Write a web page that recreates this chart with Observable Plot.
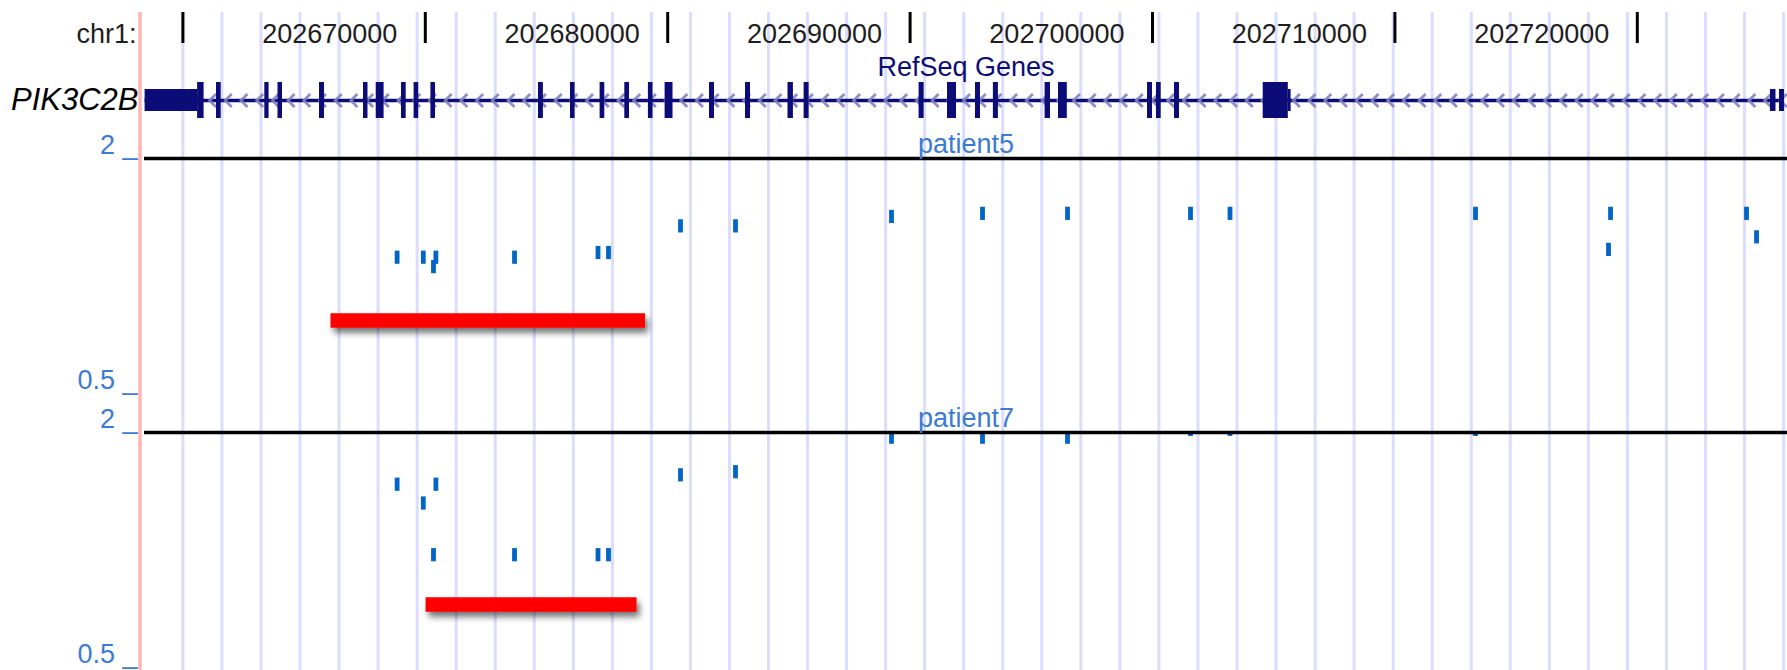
<!DOCTYPE html>
<html>
<head>
<meta charset="utf-8">
<script src="https://cdn.jsdelivr.net/npm/d3@7"></script>
<script src="https://cdn.jsdelivr.net/npm/@observablehq/plot@0.6"></script>
<style>
  body { margin: 0; background: #fff; }
  #browser { width: 1787px; }
  #browser svg { display: block; }
</style>
</head>
<body>
<div id="browser"></div>
<script>
// ---- Locus: chr1, PIK3C2B ----
const chrom = "chr1";
const viewStart = 202658416;
const viewEnd = 202726196;

// Base-position ruler
const rulerTicks = [202660000, 202670000, 202680000, 202690000, 202700000, 202710000, 202720000];
const rulerLabels = [202670000, 202680000, 202690000, 202700000, 202710000, 202720000];

// RefSeq gene model (minus strand)
const geneName = "PIK3C2B";
const txStart = 202658441;
const txEnd = 202726072;
const cdsStarts = [202660607, 202661386, 202663379, 202663923, 202665636, 202667451, 202667975, 202669018,
  202669538, 202670231, 202674670, 202675990, 202677211, 202678230, 202679204, 202679893, 202681724,
  202683210, 202684963, 202685627, 202690371, 202691543, 202692698, 202693436, 202695569, 202696122,
  202699794, 202700165, 202700908, 202704567];
const cdsEnds = [202660875, 202661580, 202663556, 202664109, 202665842, 202667636, 202668300, 202669212,
  202669728, 202670421, 202674872, 202676180, 202677405, 202678424, 202679394, 202680219, 202681931,
  202683416, 202685186, 202685834, 202690578, 202691914, 202692904, 202693643, 202695792, 202696485,
  202700000, 202700359, 202701114, 202705602];
const utrStarts = [202658441, 202705602, 202725494, 202725865];
const utrEnds = [202660607, 202705718, 202725721, 202726072];

// Array probes and per-patient ratios
const probePositions = [202668837, 202669918, 202670437, 202670338, 202673680, 202677125, 202677558,
  202680528, 202682797, 202689233, 202692987, 202696494, 202701568, 202703197, 202713325,
  202718895, 202718812, 202724505, 202724918];
const patient5Values = [1.37, 1.37, 1.37, 1.31, 1.37, 1.40, 1.40, 1.57, 1.57, 1.63, 1.65, 1.65,
  1.65, 1.65, 1.65, 1.65, 1.42, 1.65, 1.50];
const patient7Values = [1.67, 1.55, 1.67, 1.22, 1.22, 1.22, 1.22, 1.73, 1.75, 1.97, 1.97, 1.97,
  2.02, 2.02, 2.02, null, null, null, null];

// Called deletion segments (start, end, level)
const patient5DelStart = 202666110, patient5DelEnd = 202679084, patient5DelLevel = 0.966;
const patient7DelStart = 202670033, patient7DelEnd = 202678734, patient7DelLevel = 0.902;

// Track value range and its labels
const trackDomain = [0.5, 2];
const trackTicks = [2, 0.5];

// ---- Styling ----
const W = 1787, ML = 144;
const font = "'Liberation Sans', Arial, Helvetica, sans-serif";
const navy = "#0c0c78";
const dataBlue = "#0064c8";
const labelBlue = "#3b7bd6";
const guideColor = "#dcdcff";
const pink = "#ffb4b4";
const style = {fontFamily: font, background: "white", overflow: "visible"};
const xScale = {domain: [viewStart, viewEnd], axis: null};

// light blue guidelines at a fixed screen spacing
const guides = d3.range(rulerTicks[0], viewEnd, 1610.6);
// strand direction chevrons along the intron line
const chevrons = d3.range(txStart + 190, txEnd, 648);

const chevron = {draw(ctx) { ctx.moveTo(3.5, -6.5); ctx.lineTo(-3, 0); ctx.lineTo(3.5, 6.5); }};
const dash = {draw(ctx) { ctx.moveTo(-2.4, -6.6); ctx.lineTo(2.4, -6.6); ctx.lineTo(2.4, 6.6); ctx.lineTo(-2.4, 6.6); ctx.closePath(); }};

function backdrop(top, bottom) {
  return [
    Plot.ruleX(guides, {stroke: guideColor, strokeWidth: 3, insetTop: top, insetBottom: bottom}),
    Plot.ruleX([viewStart], {stroke: pink, strokeWidth: 3.5, dx: -4.5, insetTop: top, insetBottom: bottom})
  ];
}

const root = document.getElementById("browser");

// Ruler
root.appendChild(Plot.plot({
  width: W, height: 55, marginLeft: ML, marginRight: 0, marginTop: 0, marginBottom: 0,
  x: xScale, style,
  marks: [
    ...backdrop(12, 0),
    Plot.ruleX(rulerTicks, {stroke: "black", strokeWidth: 3, insetTop: 12, insetBottom: 12}),
    Plot.text(rulerLabels, {x: d => d, text: d => String(d), frameAnchor: "top", lineAnchor: "bottom",
      dy: 42, dx: -28, textAnchor: "end", fontSize: 27, fill: "#1e1e1e"}),
    Plot.text([chrom + ":"], {frameAnchor: "top-left", lineAnchor: "bottom", dy: 42, dx: -8,
      textAnchor: "end", fontSize: 27, fill: "#1e1e1e"})
  ]
}));

// RefSeq Genes track
const cdsIdx = d3.range(cdsStarts.length);
const utrIdx = d3.range(utrStarts.length);
root.appendChild(Plot.plot({
  width: W, height: 75, marginLeft: ML, marginRight: 0, marginTop: 27, marginBottom: 12,
  x: xScale, y: {domain: [geneName], axis: null, padding: 0}, style,
  marks: [
    ...backdrop(-27, -12),
    Plot.text(["RefSeq Genes"], {frameAnchor: "top", lineAnchor: "bottom", dy: -7, fontSize: 27, fill: navy}),
    Plot.ruleY([geneName], {x1: () => txStart, x2: () => txEnd, stroke: navy, strokeWidth: 3.5}),
    Plot.dot(chevrons, {x: d => d, y: () => geneName, symbol: chevron, fill: "none",
      stroke: "#8282c2", strokeWidth: 2.8, strokeOpacity: 0.9}),
    Plot.barX(utrIdx, {x1: i => utrStarts[i], x2: i => utrEnds[i], y: () => geneName, fill: navy,
      insetTop: 7, insetBottom: 7}),
    Plot.barX(cdsIdx, {x1: i => cdsStarts[i], x2: i => cdsEnds[i], y: () => geneName, fill: navy}),
    Plot.text([geneName], {y: d => d, frameAnchor: "left", dx: -6, textAnchor: "end",
      fontStyle: "italic", fontSize: 31, fill: "black"})
  ]
}));

// Patient ratio tracks
const svgNS = "http://www.w3.org/2000/svg";
function patientTrack(name, values, delStart, delEnd, delLevel, height, marginBottom) {
  const idx = d3.range(probePositions.length);
  const svg = Plot.plot({
    width: W, height, marginLeft: ML, marginRight: 0, marginTop: 28, marginBottom,
    x: xScale, y: {domain: trackDomain, axis: null}, style,
    marks: [
      ...backdrop(-28, -marginBottom),
      Plot.dot(idx, {x: i => probePositions[i], y: i => values[i], symbol: dash, fill: dataBlue,
        stroke: "none", clip: true}),
      Plot.ruleY([trackDomain[1]], {stroke: "black", strokeWidth: 3.5}),
      Plot.ruleY([delLevel], {x1: () => delStart, x2: () => delEnd, stroke: "red", strokeWidth: 14.5,
        ariaLabel: "deletion"}),
      Plot.text(trackTicks, {y: d => d, text: d => `${d} _`, frameAnchor: "left", textAnchor: "end",
        lineAnchor: "bottom", dx: -7, dy: -5, fontSize: 27, fill: labelBlue}),
      Plot.text([name], {frameAnchor: "top", lineAnchor: "bottom", dy: -6, fontSize: 27, fill: labelBlue})
    ]
  });
  // soft drop shadow under the deletion bar
  const fid = `shadow-${name}`;
  const defs = document.createElementNS(svgNS, "defs");
  defs.innerHTML = `<filter id="${fid}" filterUnits="userSpaceOnUse" x="0" y="0" width="${W}" height="${height}">
      <feDropShadow dx="3" dy="5" stdDeviation="3" flood-color="#000" flood-opacity="0.55"/></filter>`;
  svg.insertBefore(defs, svg.firstChild);
  let targets = svg.querySelectorAll('g[aria-label="deletion"]');
  if (!targets.length) targets = svg.querySelectorAll('[stroke="red"]');
  targets.forEach(g => g.setAttribute("filter", `url(#${fid})`));
  return svg;
}

root.appendChild(patientTrack("patient5", patient5Values, patient5DelStart, patient5DelEnd, patient5DelLevel, 274, 11));
root.appendChild(patientTrack("patient7", patient7Values, patient7DelStart, patient7DelEnd, patient7DelLevel, 266, 3));
</script>
</body>
</html>
